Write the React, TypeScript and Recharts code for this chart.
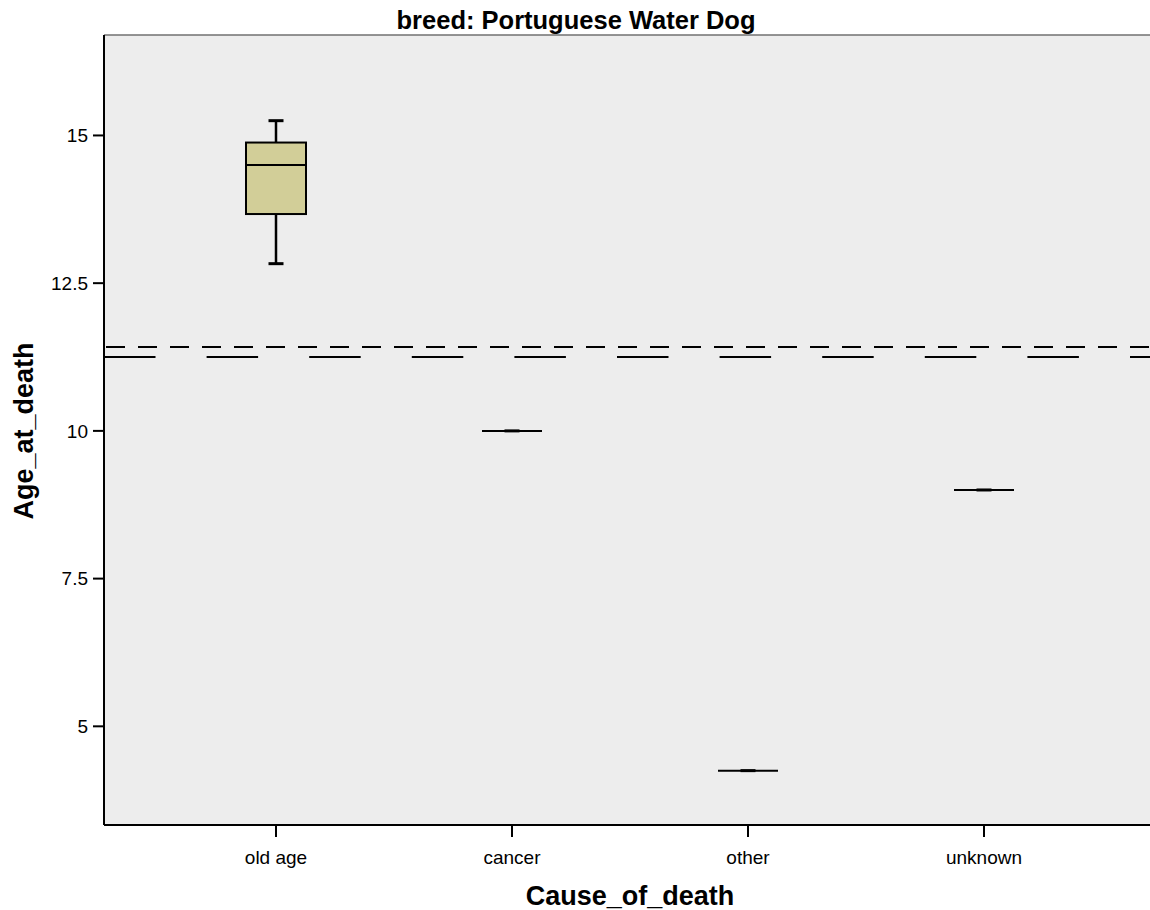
import {
  ComposedChart,
  Bar,
  Scatter,
  XAxis,
  YAxis,
  CartesianGrid,
  ReferenceLine,
  Label,
} from 'recharts'

// box plot summary per cause of death
const causes = ['old age', 'cancer', 'other', 'unknown']
const minAge = [12.83, 10, 4.25, 9]
const q1Age = [13.67, 10, 4.25, 9]
const medianAge = [14.5, 10, 4.25, 9]
const q3Age = [14.88, 10, 4.25, 9]
const maxAge = [15.25, 10, 4.25, 9]

const yTicks = [5, 7.5, 10, 12.5, 15]
const overallMean = 11.42
const overallMedian = 11.25

const FONT = '"Liberation Sans", Arial, Helvetica, sans-serif'
const BOX_FILL = '#d2ce98'
const PLOT_BG = '#ededed'

// stacked segments: invisible base, lower whisker, lower box, upper box, upper whisker
const rows = causes.map((cause, i) => {
  const flat = maxAge[i] === minAge[i]
  return {
    cause,
    single: flat ? medianAge[i] : null,
    base: flat ? null : minAge[i],
    lowWhisker: flat ? null : q1Age[i] - minAge[i],
    lowBox: flat ? null : medianAge[i] - q1Age[i],
    highBox: flat ? null : q3Age[i] - medianAge[i],
    highWhisker: flat ? null : maxAge[i] - q3Age[i],
  }
})

const skip = (p: any) => p.payload == null || p.payload.single != null

const emptyShape = () => <g />

const lowWhiskerShape = (p: any) => {
  if (skip(p)) return <g />
  const cx = p.x + p.width / 2
  const end = p.y + p.height
  return (
    <g>
      <line x1={cx} x2={cx} y1={p.y} y2={end} stroke="#000" strokeWidth={2.5} />
      <line x1={cx - 7.5} x2={cx + 7.5} y1={end} y2={end} stroke="#000" strokeWidth={3} />
    </g>
  )
}

const highWhiskerShape = (p: any) => {
  if (skip(p)) return <g />
  const cx = p.x + p.width / 2
  return (
    <g>
      <line x1={cx} x2={cx} y1={p.y} y2={p.y + p.height} stroke="#000" strokeWidth={2.5} />
      <line x1={cx - 7.5} x2={cx + 7.5} y1={p.y} y2={p.y} stroke="#000" strokeWidth={3} />
    </g>
  )
}

const boxShape = (p: any) => {
  if (skip(p)) return <g />
  return (
    <rect
      x={p.x}
      y={p.y}
      width={p.width}
      height={p.height}
      fill={BOX_FILL}
      stroke="#000"
      strokeWidth={2}
    />
  )
}

// categories with a single case collapse to one line
const singleShape = (p: any) => {
  if (p.cx == null || p.cy == null || isNaN(p.cy)) return <g />
  return (
    <g>
      <line x1={p.cx - 30} x2={p.cx + 30} y1={p.cy} y2={p.cy} stroke="#000" strokeWidth={2} />
      <line x1={p.cx - 7.5} x2={p.cx + 7.5} y1={p.cy} y2={p.cy} stroke="#000" strokeWidth={3} />
    </g>
  )
}

export default function App() {
  return (
    <div
      style={{
        position: 'absolute',
        left: 0,
        top: 0,
        width: 1150,
        height: 910,
        overflow: 'hidden',
        background: '#fff',
      }}
    >
      <svg
        width={1150}
        height={40}
        style={{ position: 'absolute', left: 0, top: 0 }}
      >
        <text
          x={576}
          y={29.3}
          textAnchor="middle"
          fontFamily={FONT}
          fontWeight="bold"
          fontSize={25.5}
          fill="#000"
        >
          breed: Portuguese Water Dog
        </text>
      </svg>
      <ComposedChart
        width={1170}
        height={910}
        data={rows}
        margin={{ top: 35, right: 14, bottom: 25, left: 44 }}
        style={{ fontFamily: FONT }}
      >
        <CartesianGrid horizontal={false} vertical={false} fill={PLOT_BG} />
        <XAxis
          dataKey="cause"
          height={60}
          padding={{ left: 54, right: 54 }}
          tickSize={12}
          tickMargin={14}
          axisLine={{ stroke: '#000', strokeWidth: 2 }}
          tickLine={{ stroke: '#000', strokeWidth: 2 }}
          tick={{ fill: '#000', fontSize: 19, fontFamily: FONT }}
        >
          <Label
            content={() => (
              <text
                x={630}
                y={905}
                textAnchor="middle"
                fontFamily={FONT}
                fontWeight="bold"
                fontSize={27}
                fill="#000"
              >
                Cause_of_death
              </text>
            )}
          />
        </XAxis>
        <YAxis
          type="number"
          width={60}
          domain={[3.33, 16.7]}
          allowDataOverflow
          ticks={yTicks}
          tickSize={11}
          tickMargin={5}
          axisLine={{ stroke: '#000', strokeWidth: 2 }}
          tickLine={{ stroke: '#000', strokeWidth: 2 }}
          tick={{ fill: '#000', fontSize: 19, fontFamily: FONT }}
        >
          <Label
            content={() => (
              <text
                x={33}
                y={431}
                transform="rotate(-90, 33, 431)"
                textAnchor="middle"
                fontFamily={FONT}
                fontWeight="bold"
                fontSize={27}
                fill="#000"
              >
                Age_at_death
              </text>
            )}
          />
        </YAxis>
        <ReferenceLine y={16.7} stroke="#707070" strokeWidth={1.5} />
        <ReferenceLine
          y={overallMean}
          stroke="#000"
          strokeWidth={2}
          strokeDasharray="19 13"
          strokeDashoffset={30}
        />
        <ReferenceLine
          y={overallMedian}
          stroke="#000"
          strokeWidth={2}
          strokeDasharray="51.5 51.1"
        />
        <Bar dataKey="base" stackId="box" barSize={60} shape={emptyShape} isAnimationActive={false} />
        <Bar dataKey="lowWhisker" stackId="box" barSize={60} shape={lowWhiskerShape} isAnimationActive={false} />
        <Bar dataKey="lowBox" stackId="box" barSize={60} shape={boxShape} isAnimationActive={false} />
        <Bar dataKey="highBox" stackId="box" barSize={60} shape={boxShape} isAnimationActive={false} />
        <Bar dataKey="highWhisker" stackId="box" barSize={60} shape={highWhiskerShape} isAnimationActive={false} />
        <Scatter dataKey="single" shape={singleShape} isAnimationActive={false} />
      </ComposedChart>
    </div>
  )
}
